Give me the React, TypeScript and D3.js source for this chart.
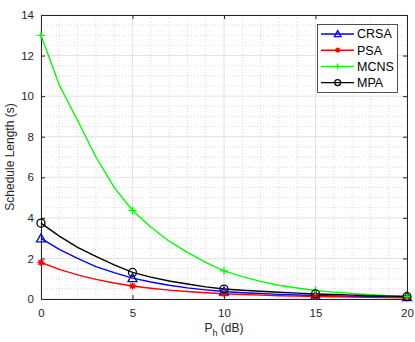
import React, { useEffect, useRef } from "react";
import * as d3 from "d3";

// P_h (dB)
const xValues = [0, 1, 2, 3, 4, 5, 6, 7, 8, 9, 10, 11, 12, 13, 14, 15, 16, 17, 18, 19, 20];
const markerX = [0, 5, 10, 15, 20];

const crsa = [2.99, 2.45, 2.0, 1.6, 1.3, 1.03, 0.84, 0.68, 0.55, 0.45, 0.37, 0.31, 0.27, 0.23, 0.2, 0.17, 0.15, 0.13, 0.12, 0.1, 0.09];
const psa = [1.8, 1.46, 1.19, 0.97, 0.79, 0.64, 0.53, 0.44, 0.37, 0.31, 0.26, 0.22, 0.19, 0.16, 0.14, 0.12, 0.11, 0.09, 0.08, 0.07, 0.06];
const mcns = [13.0, 10.55, 8.8, 7.0, 5.5, 4.36, 3.55, 2.85, 2.3, 1.8, 1.39, 1.1, 0.87, 0.68, 0.54, 0.42, 0.34, 0.27, 0.21, 0.16, 0.12];
const mpa = [3.74, 3.1, 2.55, 2.1, 1.68, 1.31, 1.08, 0.89, 0.74, 0.6, 0.49, 0.43, 0.38, 0.33, 0.29, 0.25, 0.22, 0.19, 0.16, 0.14, 0.12];

const xTicks = [0, 5, 10, 15, 20];
const yTicks = [0, 2, 4, 6, 8, 10, 12, 14];

const seriesList = [
  { name: "CRSA", values: crsa, color: "#0000ff", marker: "triangle" },
  { name: "PSA", values: psa, color: "#ff0000", marker: "asterisk" },
  { name: "MCNS", values: mcns, color: "#00ff00", marker: "plus" },
  { name: "MPA", values: mpa, color: "#000000", marker: "circle" },
];

function drawMarker(g: any, type: string, cx: number, cy: number, color: string, k = 1) {
  if (type === "triangle") {
    g.append("path")
      .attr("d", `M${cx},${cy - 4.5 * k} L${cx + 4.5 * k},${cy + 3.5 * k} L${cx - 4.5 * k},${cy + 3.5 * k} Z`)
      .attr("fill", "none").attr("stroke", color).attr("stroke-width", 1.3);
  } else if (type === "circle") {
    g.append("circle").attr("cx", cx).attr("cy", cy).attr("r", 4 * k)
      .attr("fill", "none").attr("stroke", color).attr("stroke-width", 1.3);
  } else if (type === "plus") {
    g.append("path")
      .attr("d", `M${cx - 4 * k},${cy} H${cx + 4 * k} M${cx},${cy - 4 * k} V${cy + 4 * k}`)
      .attr("stroke", color).attr("stroke-width", 1.3);
  } else {
    const r = 3.5 * k, d = 2.5 * k;
    g.append("path")
      .attr("d", `M${cx - r},${cy} H${cx + r} M${cx},${cy - r} V${cy + r} M${cx - d},${cy - d} L${cx + d},${cy + d} M${cx - d},${cy + d} L${cx + d},${cy - d}`)
      .attr("stroke", color).attr("stroke-width", 1.3);
  }
}

export default function App() {
  const ref = useRef<SVGSVGElement>(null);

  useEffect(() => {
    const svg = d3.select(ref.current);
    svg.selectAll("*").remove();

    const left = 41, right = 407, top = 15, bottom = 299;
    const x = d3.scaleLinear().domain([0, 20]).range([left, right]);
    const y = d3.scaleLinear().domain([0, 14]).range([bottom, top]);
    const font = "Liberation Sans, Arial, sans-serif";

    svg.append("rect").attr("x", left).attr("y", top).attr("width", right - left).attr("height", bottom - top).attr("fill", "#fff");

    // minor grid
    const minorX = d3.range(0, 20.01, 1).filter(v => v % 5 !== 0);
    const minorY = d3.range(0, 14.01, 0.5).filter(v => v % 2 !== 0);
    const grid = svg.append("g");
    grid.selectAll(".mx").data(minorX).join("line")
      .attr("x1", d => x(d)).attr("x2", d => x(d)).attr("y1", top).attr("y2", bottom)
      .attr("stroke", "#d0d0d0").attr("stroke-width", 0.8).attr("stroke-dasharray", "1,2");
    grid.selectAll(".my").data(minorY).join("line")
      .attr("y1", d => y(d)).attr("y2", d => y(d)).attr("x1", left).attr("x2", right)
      .attr("stroke", "#d0d0d0").attr("stroke-width", 0.8).attr("stroke-dasharray", "1,2");
    // major grid
    grid.selectAll(".Mx").data(xTicks).join("line")
      .attr("x1", d => x(d)).attr("x2", d => x(d)).attr("y1", top).attr("y2", bottom)
      .attr("stroke", "#e2e2e2").attr("stroke-width", 1);
    grid.selectAll(".My").data(yTicks).join("line")
      .attr("y1", d => y(d)).attr("y2", d => y(d)).attr("x1", left).attr("x2", right)
      .attr("stroke", "#e2e2e2").attr("stroke-width", 1);

    // axes (ticks inward, box on)
    const axisColor = "#262626";
    const axB = svg.append("g").attr("transform", `translate(0,${bottom})`)
      .call(d3.axisBottom(x).tickValues(xTicks).tickSizeInner(-4).tickSizeOuter(0).tickPadding(10));
    const axT = svg.append("g").attr("transform", `translate(0,${top})`)
      .call(d3.axisTop(x).tickValues(xTicks).tickSizeInner(-4).tickSizeOuter(0).tickFormat(() => ""));
    const axL = svg.append("g").attr("transform", `translate(${left},0)`)
      .call(d3.axisLeft(y).tickValues(yTicks).tickSizeInner(-4).tickSizeOuter(0).tickPadding(7));
    const axR = svg.append("g").attr("transform", `translate(${right},0)`)
      .call(d3.axisRight(y).tickValues(yTicks).tickSizeInner(-4).tickSizeOuter(0).tickFormat(() => ""));
    [axB, axT, axL, axR].forEach(a => {
      a.select(".domain").attr("stroke", axisColor);
      a.selectAll(".tick line").attr("stroke", axisColor);
      a.selectAll(".tick text").attr("fill", axisColor).style("font-family", font).style("font-size", "11.5px");
    });

    // lines
    const line = d3.line<number>().x((_, i) => x(xValues[i])).y(d => y(d));
    const plot = svg.append("g");
    seriesList.forEach(s => {
      plot.append("path").datum(s.values).attr("d", line)
        .attr("fill", "none").attr("stroke", s.color).attr("stroke-width", 1.4);
    });
    seriesList.forEach(s => {
      markerX.forEach(mx => {
        const i = xValues.indexOf(mx);
        drawMarker(plot, s.marker, x(mx), y(s.values[i]), s.color);
      });
    });

    // axis labels
    svg.append("text").attr("x", 224).attr("y", 332).attr("text-anchor", "middle")
      .style("font-family", font).style("font-size", "12px").attr("fill", axisColor)
      .html('P<tspan dy="4" font-size="9px">h</tspan><tspan dy="-4"> (dB)</tspan>');
    svg.append("text").attr("transform", `translate(14,${(top + bottom) / 2}) rotate(-90)`)
      .attr("text-anchor", "middle")
      .style("font-family", font).style("font-size", "12px").attr("fill", axisColor)
      .text("Schedule Length (s)");

    // legend
    const lg = svg.append("g");
    lg.append("rect").attr("x", 317.5).attr("y", 24.5).attr("width", 80).attr("height", 68)
      .attr("fill", "#fff").attr("stroke", axisColor).attr("stroke-width", 0.8);
    seriesList.forEach((s, i) => {
      const ly = 34 + i * 16.2;
      lg.append("line").attr("x1", 321).attr("x2", 354).attr("y1", ly).attr("y2", ly)
        .attr("stroke", s.color).attr("stroke-width", 1.4);
      drawMarker(lg, s.marker, 337.7, ly, s.color, 0.75);
      lg.append("text").attr("x", 357).attr("y", ly + 4.4)
        .style("font-family", font).style("font-size", "12.5px").attr("fill", "#000")
        .text(s.name);
    });
  }, []);

  return (
    <svg ref={ref} width={415} height={342} style={{ position: "absolute", left: 0, top: 0 }} />
  );
}
